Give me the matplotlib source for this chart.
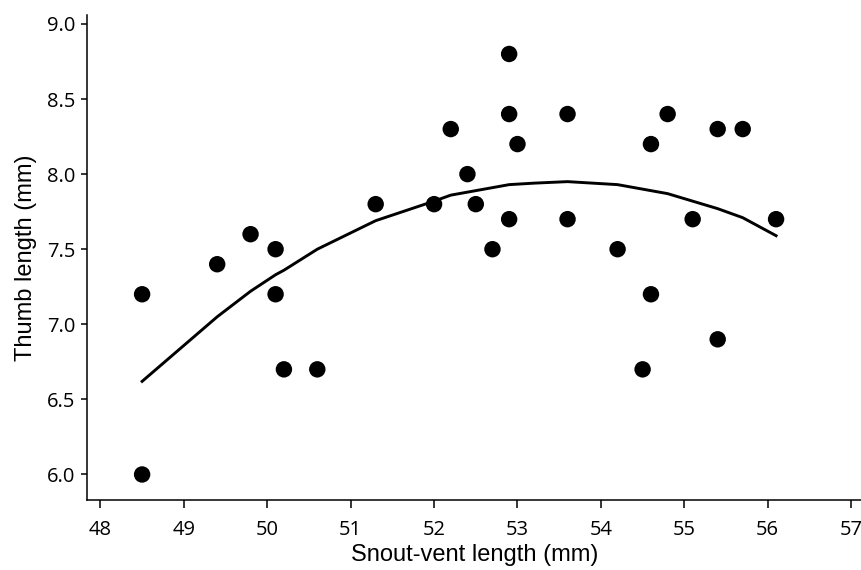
import numpy as np
import matplotlib.pyplot as plt

# snout-vent length (mm) and thumb length (mm)
svl = [48.5, 48.5, 49.4, 49.8, 50.1, 50.1, 50.2, 50.6, 51.3, 52.0,
       52.2, 52.4, 52.5, 52.7, 52.9, 52.9, 52.9, 53.0, 53.6, 53.6,
       54.2, 54.5, 54.6, 54.6, 54.8, 55.1, 55.4, 55.4, 55.7, 56.1]
thumb = [7.2, 6.0, 7.4, 7.6, 7.5, 7.2, 6.7, 6.7, 7.8, 7.8,
         8.3, 8.0, 7.8, 7.5, 8.8, 8.4, 7.7, 8.2, 8.4, 7.7,
         7.5, 6.7, 8.2, 7.2, 8.4, 7.7, 8.3, 6.9, 8.3, 7.7]

# fitted curve
fit_x = [48.5, 49.4, 49.8, 50.1, 50.2, 50.6, 51.3, 52.0, 52.2, 52.4, 52.5,
         52.7, 52.9, 53.2, 53.6, 54.2, 54.5, 54.6, 54.8, 55.1, 55.4, 55.7, 56.1]
fit_y = [6.62, 7.05, 7.22, 7.33, 7.36, 7.50, 7.69, 7.82, 7.86, 7.88, 7.89,
         7.91, 7.93, 7.94, 7.95, 7.93, 7.90, 7.89, 7.87, 7.82, 7.77, 7.71, 7.59]

fig = plt.figure(figsize=(8.62, 5.70), dpi=100)
ax = fig.add_axes([0.101, 0.1228, 0.899, 0.851])

ax.plot(fit_x, fit_y, color='black', lw=2.1, zorder=2)
ax.scatter(svl, thumb, s=140, color='black', edgecolors='none', zorder=3)

ax.set_xlim(47.84, 57.13)
ax.set_ylim(5.83, 9.06)
ax.set_xticks(np.arange(48, 58, 1))
ax.set_yticks([6.0, 6.5, 7.0, 7.5, 8.0, 8.5, 9.0])
ax.set_yticklabels(['6.0', '6.5', '7.0', '7.5', '8.0', '8.5', '9.0'])

for s in ['top', 'right']:
    ax.spines[s].set_visible(False)
for s in ['left', 'bottom']:
    ax.spines[s].set_linewidth(1.1)
ax.tick_params(direction='out', width=1.1, colors='black')
ax.tick_params(axis='x', length=5.5, pad=9)
ax.tick_params(axis='y', length=4.5, pad=4)
for lab in ax.get_xticklabels() + ax.get_yticklabels():
    lab.set_fontfamily('Open Sans')
    lab.set_fontsize(14.5)

ax.set_xlabel('Snout-vent length (mm)', fontsize=17, family='Liberation Sans', labelpad=3)
ax.set_ylabel('Thumb length (mm)', fontsize=17, family='Liberation Sans', labelpad=7)

fig.savefig('out.png', dpi=100)
